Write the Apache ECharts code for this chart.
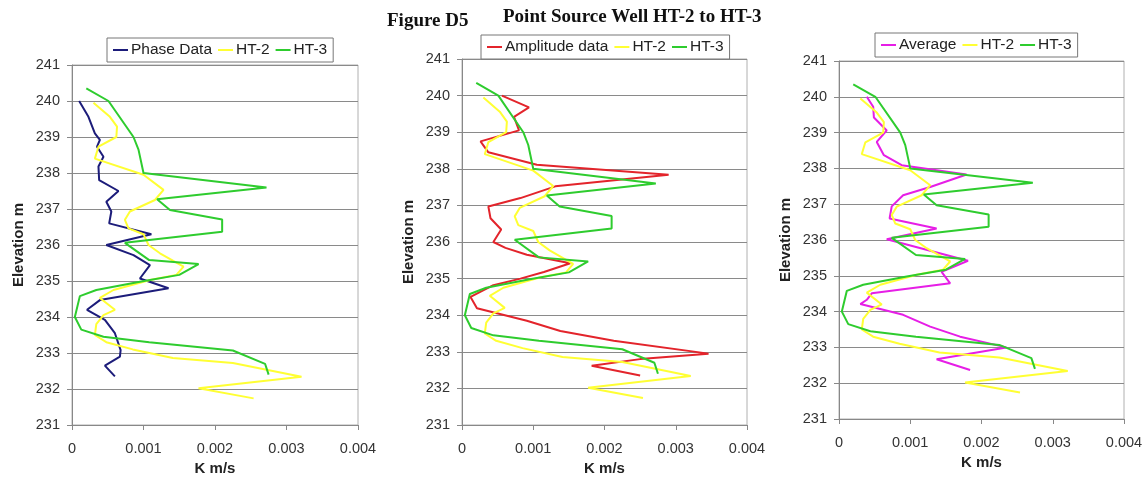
<!DOCTYPE html>
<html>
<head>
<meta charset="utf-8">
<script src="https://cdn.jsdelivr.net/npm/echarts@6/dist/echarts.min.js"></script>
<style>
  html, body { margin: 0; padding: 0; background: #fff; }
  #chart { width: 1146px; height: 482px; }
</style>
</head>
<body>
<div id="chart"></div>
<script>
// Hydraulic conductivity profiles (K, m/s) against elevation (m)

// Well HT-2 (shown in all three panels)
const ht2Elev = [239.95, 239.56, 239.29, 239.0, 238.73, 238.4, 237.95, 237.53, 237.25, 236.93, 236.7, 236.46, 236.3, 236.0, 235.77, 235.4, 235.17, 235.03, 234.75, 234.53, 234.2, 234.05, 233.8, 233.5, 233.3, 233.1, 232.86, 232.72, 232.34, 232.02, 231.74];
const ht2K    = [0.0003, 0.00053, 0.00063, 0.00062, 0.00037, 0.00032, 0.001, 0.00128, 0.00116, 0.00081, 0.00074, 0.00079, 0.001, 0.00107, 0.00123, 0.00156, 0.00146, 0.00109, 0.00058, 0.00039, 0.0006, 0.00044, 0.00034, 0.00032, 0.00048, 0.00085, 0.00141, 0.00225, 0.00321, 0.00177, 0.00254];

// Well HT-3 (shown in all three panels)
const ht3Elev = [240.35, 240.0, 239.0, 238.65, 238.0, 237.6, 237.27, 236.97, 236.71, 236.37, 236.06, 235.58, 235.47, 235.17, 234.98, 234.75, 234.58, 234.0, 233.65, 233.45, 233.3, 233.07, 232.7, 232.4];
const ht3K    = [0.0002, 0.00051, 0.00086, 0.00093, 0.001, 0.00272, 0.00119, 0.00137, 0.0021, 0.0021, 0.00074, 0.00108, 0.00177, 0.0015, 0.00095, 0.00034, 0.00011, 0.00004, 0.00013, 0.00044, 0.00108, 0.00225, 0.0027, 0.00275];

// Phase data
const phaseElev = [240.0, 239.56, 239.1, 238.92, 238.73, 238.45, 238.18, 237.8, 237.5, 237.2, 236.93, 236.6, 236.3, 236.0, 235.72, 235.44, 235.07, 234.8, 234.47, 234.2, 233.92, 233.55, 233.08, 232.9, 232.65, 232.35];
const phaseK    = [0.0001, 0.00023, 0.00032, 0.00039, 0.00035, 0.00044, 0.00037, 0.00038, 0.00065, 0.00048, 0.00055, 0.00052, 0.00111, 0.00048, 0.00086, 0.00109, 0.00095, 0.00135, 0.00039, 0.00021, 0.00046, 0.0006, 0.00068, 0.00067, 0.00046, 0.0006];

// Amplitude data
const ampElev = [240.0, 239.68, 239.42, 239.05, 238.75, 238.45, 238.11, 237.84, 237.52, 237.2, 236.97, 236.65, 236.34, 236.0, 235.84, 235.65, 235.42, 235.18, 235.0, 234.82, 234.5, 234.19, 233.85, 233.57, 233.3, 232.95, 232.8, 232.62, 232.35];
const ampK    = [0.00056, 0.00094, 0.00073, 0.0008, 0.00026, 0.00037, 0.00105, 0.0029, 0.00131, 0.00082, 0.00037, 0.0004, 0.00055, 0.00044, 0.00061, 0.00091, 0.00152, 0.00115, 0.00082, 0.00044, 0.00012, 0.00021, 0.00091, 0.00138, 0.00213, 0.00346, 0.0025, 0.00182, 0.0025];

// Average of phase and amplitude
const avgElev = [240.0, 239.72, 239.42, 239.06, 238.74, 238.37, 238.09, 237.83, 237.48, 237.25, 236.94, 236.6, 236.32, 236.02, 235.42, 235.11, 234.79, 234.51, 234.33, 234.21, 233.91, 233.58, 233.3, 233.0, 232.67, 232.37];
const avgK    = [0.00039, 0.00048, 0.00049, 0.00067, 0.00053, 0.00063, 0.00088, 0.00179, 0.00128, 0.0009, 0.00074, 0.00071, 0.00137, 0.00067, 0.00181, 0.00144, 0.00156, 0.00046, 0.00039, 0.0003, 0.0009, 0.00128, 0.0017, 0.00235, 0.00137, 0.00184];

// Axis ticks
const kTicks = [0, 0.001, 0.002, 0.003, 0.004];
const elevTicks = [231, 232, 233, 234, 235, 236, 237, 238, 239, 240, 241];

const COLORS = {
  phase: '#1c1c7a',
  amp: '#e3242b',
  avg: '#e61ee6',
  ht2: '#ffff33',
  ht3: '#2ecc2e'
};

const pairs = (k, e) => k.map((v, i) => [v, e[i]]);

const panels = [
  { main: 'Phase Data', mainK: phaseK, mainE: phaseElev, color: COLORS.phase,
    grid: { left: 72, top: 65, width: 286, height: 360 },
    legend: { left: 107, top: 38 } },
  { main: 'Amplitude data', mainK: ampK, mainE: ampElev, color: COLORS.amp,
    grid: { left: 462, top: 59, width: 285, height: 366 },
    legend: { left: 481, top: 35 } },
  { main: 'Average', mainK: avgK, mainE: avgElev, color: COLORS.avg,
    grid: { left: 839, top: 61, width: 285, height: 358 },
    legend: { left: 875, top: 33 } }
];

const textColor = '#222';
const fontFamily = 'Liberation Sans, Arial, sans-serif';
const serif = 'Liberation Serif, Times New Roman, serif';

const option = {
  animation: false,
  backgroundColor: '#fff',
  title: [
    { text: 'Figure D5', left: 387, top: 12, padding: 0,
      textStyle: { fontFamily: serif, fontWeight: 'bold', fontSize: 19, color: '#111' } },
    { text: 'Point Source Well HT-2 to HT-3', left: 503, top: 8, padding: 0,
      textStyle: { fontFamily: serif, fontWeight: 'bold', fontSize: 19, color: '#111' } }
  ],
  grid: [],
  xAxis: [],
  yAxis: [],
  legend: [],
  series: []
};

panels.forEach((p, i) => {
  option.grid.push(Object.assign({ show: true, borderColor: '#b0b0b0', borderWidth: 1, backgroundColor: '#fff' }, p.grid));
  option.xAxis.push({
    type: 'value', gridIndex: i,
    min: kTicks[0], max: kTicks[kTicks.length - 1], interval: kTicks[1] - kTicks[0],
    name: 'K m/s', nameLocation: 'middle', nameGap: 34,
    nameTextStyle: { fontFamily, fontWeight: 'bold', fontSize: 15, color: textColor },
    axisLine: { show: true, lineStyle: { color: '#888', width: 1 } },
    axisTick: { show: true, inside: false, length: 5, lineStyle: { color: '#888' } },
    axisLabel: { margin: 16, fontFamily, fontSize: 14.5, color: '#333',
      formatter: v => String(+v.toFixed(3)) },
    splitLine: { show: false }
  });
  option.yAxis.push({
    type: 'value', gridIndex: i,
    min: elevTicks[0], max: elevTicks[elevTicks.length - 1], interval: elevTicks[1] - elevTicks[0],
    name: 'Elevation m', nameLocation: 'middle', nameRotate: 90, nameGap: 46,
    nameTextStyle: { fontFamily, fontWeight: 'bold', fontSize: 15, color: textColor },
    axisLine: { show: true, lineStyle: { color: '#888', width: 1 } },
    axisTick: { show: true, inside: false, length: 5, lineStyle: { color: '#888' } },
    axisLabel: { margin: 12, fontFamily, fontSize: 14.5, color: '#333' },
    splitLine: { show: true, lineStyle: { color: '#8a8a8a', width: 1 } }
  });
  option.legend.push({
    left: p.legend.left, top: p.legend.top,
    orient: 'horizontal',
    data: [p.main, 'HT-2', 'HT-3'],
    icon: 'rect', itemWidth: 15, itemHeight: 2, itemGap: 6,
    padding: [4, 6, 4, 6],
    borderColor: '#777', borderWidth: 1, backgroundColor: '#fff',
    selectedMode: false,
    textStyle: { fontFamily, fontSize: 15.5, color: textColor, padding: [0, 0, 0, -2] }
  });
  const lineSeries = (name, k, e, color) => ({
    name, type: 'line', xAxisIndex: i, yAxisIndex: i,
    data: pairs(k, e), showSymbol: false, symbol: 'none',
    lineStyle: { color, width: 2 }, itemStyle: { color },
    emphasis: { disabled: true }
  });
  option.series.push(lineSeries(p.main, p.mainK, p.mainE, p.color));
  option.series.push(lineSeries('HT-2', ht2K, ht2Elev, COLORS.ht2));
  option.series.push(lineSeries('HT-3', ht3K, ht3Elev, COLORS.ht3));
});

const chart = echarts.init(document.getElementById('chart'), null, { renderer: 'canvas' });
chart.setOption(option);
</script>
</body>
</html>
